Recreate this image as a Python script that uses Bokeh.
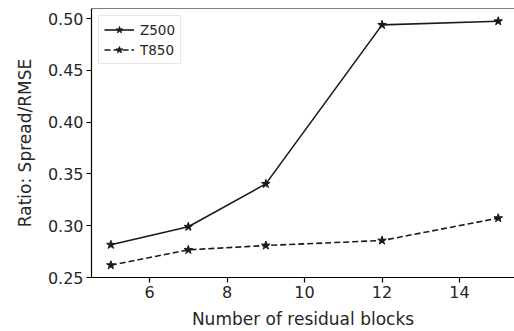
from bokeh.plotting import figure
from bokeh.models import FixedTicker, NumeralTickFormatter, Span, Range1d
from bokeh.embed import file_html
from bokeh.resources import INLINE

# Spread/RMSE ratio versus number of residual blocks
blocks = [5, 7, 9, 12, 15]
z500 = [0.2816, 0.2990, 0.3404, 0.4939, 0.4974]
t850 = [0.2619, 0.2767, 0.2809, 0.2857, 0.3073]
x_ticks = [6, 8, 10, 12, 14]
y_ticks = [0.25, 0.30, 0.35, 0.40, 0.45, 0.50]

FONT = "DejaVu Sans"
TEXT = "#262626"
INK = "#1a1a1a"

p = figure(width=514, height=331, output_backend="svg", toolbar_location=None,
           x_range=Range1d(4.5, 15.42), y_range=Range1d(0.25, 0.5097),
           min_border_left=91, min_border_right=0, min_border_top=8,
           min_border_bottom=54)
p.outline_line_color = None
p.grid.visible = False
p.background_fill_color = "white"
p.border_fill_color = "white"

# top spine
p.add_layout(Span(location=0.5097, dimension="width", line_color="black", line_width=1.2))

p.line(blocks, z500, line_color=INK, line_width=1.6, legend_label="Z500")
p.scatter(blocks, z500, marker="star", size=9, fill_color=INK, line_color=INK,
          legend_label="Z500")
p.line(blocks, t850, line_color=INK, line_width=1.6, line_dash="6 3",
       legend_label="T850")
p.scatter(blocks, t850, marker="star", size=9, fill_color=INK, line_color=INK,
          legend_label="T850")

p.xaxis.ticker = FixedTicker(ticks=x_ticks)
p.yaxis.ticker = FixedTicker(ticks=y_ticks)
p.yaxis.formatter = NumeralTickFormatter(format="0.00")
p.xaxis.axis_label = "Number of residual blocks"
p.yaxis.axis_label = "Ratio: Spread/RMSE"

for ax in (p.xaxis[0], p.yaxis[0]):
    ax.axis_line_color = "black"
    ax.axis_line_width = 1.2
    ax.major_tick_line_color = "black"
    ax.major_tick_line_width = 1.2
    ax.major_tick_out = 5
    ax.major_tick_in = 0
    ax.minor_tick_line_color = None
    ax.major_label_text_font = FONT
    ax.major_label_text_font_size = "16px"
    ax.major_label_text_color = TEXT
    ax.axis_label_text_font = FONT
    ax.axis_label_text_font_size = "17px"
    ax.axis_label_text_font_style = "normal"
    ax.axis_label_text_color = TEXT
    ax.major_label_standoff = 3

p.xaxis.axis_label_standoff = 8
p.yaxis.axis_label_standoff = 10

lg = p.legend[0]
lg.location = "top_left"
lg.margin = 7
lg.padding = 5
lg.spacing = 3
lg.glyph_width = 30
lg.glyph_height = 17
lg.label_height = 17
lg.label_standoff = 6
lg.label_text_font = FONT
lg.label_text_font_size = "13.5px"
lg.label_text_color = TEXT
lg.border_line_color = "#d0d0d0"
lg.border_line_width = 1
lg.background_fill_alpha = 0.8

open("out.html", "w").write(file_html(p, INLINE))
